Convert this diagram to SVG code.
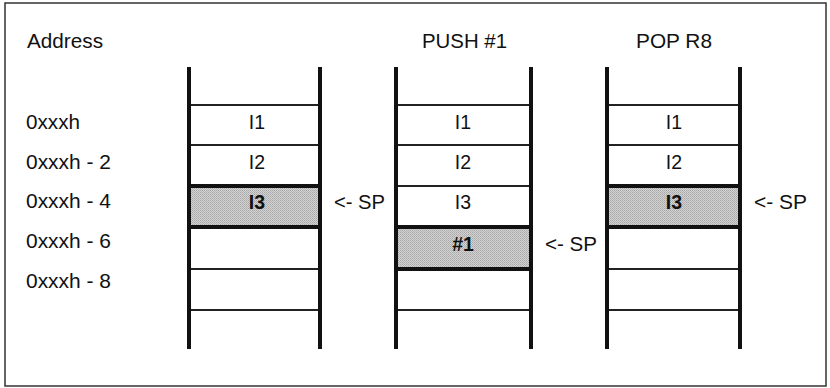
<svg xmlns="http://www.w3.org/2000/svg" width="830" height="388" viewBox="0 0 830 388">
  <defs>
    <!-- halftone fill for the cell the stack pointer addresses -->
    <pattern id="halftone" width="2" height="2" patternUnits="userSpaceOnUse">
      <rect width="2" height="2" fill="#d4d4d4"/>
      <rect width="1" height="1" fill="#a6a6a6"/>
      <rect x="1" y="1" width="1" height="1" fill="#b4b4b4"/>
    </pattern>
  </defs>
  <style>
    text { font-family: "Liberation Sans", Arial, Helvetica, sans-serif; font-size: 19.5px; fill: #111; }
    .cell { text-anchor: middle; }
    .bold { font-weight: bold; }
    .wall { stroke: #111; stroke-width: 4; }
    .row { stroke: #222; stroke-width: 1.8; }
    .edge { stroke: #111; stroke-width: 4; }
    .frame { fill: none; stroke: #333; stroke-width: 1.5; }
  </style>

  <rect width="830" height="388" fill="#ffffff"/>
  <rect class="frame" x="5" y="3" width="821" height="383"/>

  <!-- address column -->
  <g id="addresses">
    <text x="27" y="48" textLength="76" lengthAdjust="spacingAndGlyphs">Address</text>
    <text x="26" y="129" textLength="54" lengthAdjust="spacingAndGlyphs">0xxxh</text>
    <text x="26" y="169" textLength="85" lengthAdjust="spacingAndGlyphs">0xxxh - 2</text>
    <text x="26" y="208" textLength="85" lengthAdjust="spacingAndGlyphs">0xxxh - 4</text>
    <text x="26" y="248" textLength="85" lengthAdjust="spacingAndGlyphs">0xxxh - 6</text>
    <text x="26" y="288" textLength="85" lengthAdjust="spacingAndGlyphs">0xxxh - 8</text>
  </g>

  <!-- initial stack: SP at I3 -->
  <g id="stack-initial">
    <rect x="189" y="186" width="131" height="41" fill="url(#halftone)"/>
    <line class="row" x1="189" y1="105" x2="320" y2="105"/>
    <line class="row" x1="189" y1="145" x2="320" y2="145"/>
    <line class="edge" x1="189" y1="186" x2="320" y2="186"/>
    <line class="edge" x1="189" y1="227" x2="320" y2="227"/>
    <line class="row" x1="189" y1="269" x2="320" y2="269"/>
    <line class="row" x1="189" y1="310" x2="320" y2="310"/>
    <line class="wall" x1="189" y1="67" x2="189" y2="349"/>
    <line class="wall" x1="320" y1="67" x2="320" y2="349"/>
    <text class="cell" x="257" y="129">I1</text>
    <text class="cell" x="257" y="169">I2</text>
    <text class="cell bold" x="257" y="209">I3</text>
    <text x="334" y="209" textLength="51" lengthAdjust="spacingAndGlyphs">&lt;- SP</text>
  </g>

  <!-- after PUSH #1: SP moves down to the new item -->
  <g id="stack-push">
    <text x="422" y="48" textLength="85" lengthAdjust="spacingAndGlyphs">PUSH #1</text>
    <rect x="396" y="227" width="135" height="42" fill="url(#halftone)"/>
    <line class="row" x1="396" y1="105" x2="531" y2="105"/>
    <line class="row" x1="396" y1="145" x2="531" y2="145"/>
    <line class="row" x1="396" y1="186" x2="531" y2="186"/>
    <line class="edge" x1="396" y1="227" x2="531" y2="227"/>
    <line class="edge" x1="396" y1="269" x2="531" y2="269"/>
    <line class="row" x1="396" y1="310" x2="531" y2="310"/>
    <line class="wall" x1="396" y1="67" x2="396" y2="349"/>
    <line class="wall" x1="531" y1="67" x2="531" y2="349"/>
    <text class="cell" x="463" y="129">I1</text>
    <text class="cell" x="463" y="169">I2</text>
    <text class="cell" x="463" y="209">I3</text>
    <text class="cell bold" x="463" y="251">#1</text>
    <text x="545" y="251" textLength="52" lengthAdjust="spacingAndGlyphs">&lt;- SP</text>
  </g>

  <!-- after POP R8: SP back at I3 -->
  <g id="stack-pop">
    <text x="636" y="48" textLength="76" lengthAdjust="spacingAndGlyphs">POP R8</text>
    <rect x="607" y="186" width="133" height="41" fill="url(#halftone)"/>
    <line class="row" x1="607" y1="105" x2="740" y2="105"/>
    <line class="row" x1="607" y1="145" x2="740" y2="145"/>
    <line class="edge" x1="607" y1="186" x2="740" y2="186"/>
    <line class="edge" x1="607" y1="227" x2="740" y2="227"/>
    <line class="row" x1="607" y1="269" x2="740" y2="269"/>
    <line class="row" x1="607" y1="310" x2="740" y2="310"/>
    <line class="wall" x1="607" y1="67" x2="607" y2="349"/>
    <line class="wall" x1="740" y1="67" x2="740" y2="349"/>
    <text class="cell" x="674" y="129">I1</text>
    <text class="cell" x="674" y="169">I2</text>
    <text class="cell bold" x="674" y="209">I3</text>
    <text x="754" y="209" textLength="53" lengthAdjust="spacingAndGlyphs">&lt;- SP</text>
  </g>

  <!-- no connectors in this figure -->
  <g id="connectors"/>
</svg>
